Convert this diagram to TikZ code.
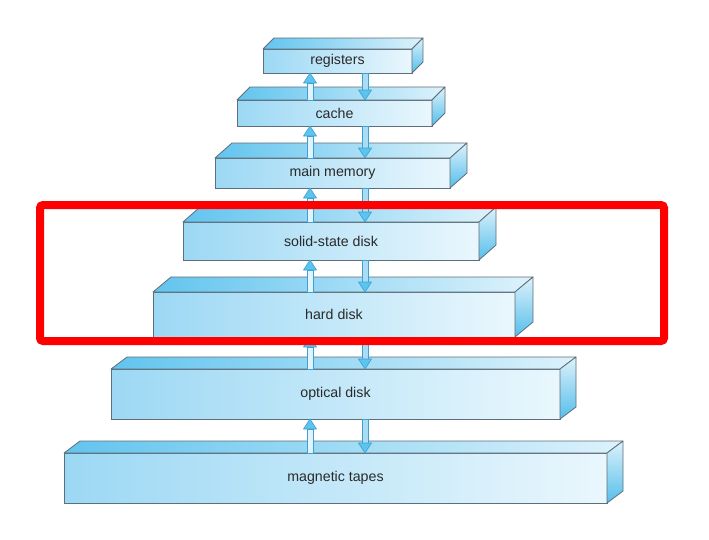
\documentclass[tikz,border=0pt]{standalone}
\usepackage{fontspec}
\setmainfont{Liberation Sans}
\usetikzlibrary{calc}
\definecolor{edge}{HTML}{5E6E7A}
\definecolor{frontL}{HTML}{9CD8F4}
\definecolor{frontR}{HTML}{EAF7FD}
\definecolor{topL}{HTML}{62C4EE}
\definecolor{topR}{HTML}{DDF2FB}
\definecolor{sideT}{HTML}{DDF2FB}
\definecolor{sideB}{HTML}{55BEEB}
\definecolor{arrline}{HTML}{3E9FD0}
\definecolor{arrhd}{HTML}{5CC4EE}
\definecolor{upsh}{HTML}{E6F5FC}
\definecolor{dnsh}{HTML}{A9DDF5}
\definecolor{txt}{HTML}{2A2A2A}
\definecolor{hl}{HTML}{FF0000}
\tikzset{
  front/.style={draw=edge, line width=0.8pt, left color=frontL, right color=frontR,
    inner sep=0pt, outer sep=0pt, text=txt, font=\fontsize{14.2}{16}\selectfont},
  topface/.style={draw=edge, line width=0.8pt, line join=round, left color=topL, right color=topR},
  sideface/.style={draw=edge, line width=0.8pt, line join=round, top color=sideT, bottom color=sideB},
  upshaft/.style={draw=arrline, line width=0.6pt, left color=upsh, right color=white!60!dnsh},
  dnshaft/.style={draw=arrline, line width=0.6pt, fill=dnsh},
  arrhead/.style={draw=arrline, line width=0.6pt, fill=arrhd, line join=round},
  hlbox/.style={draw=hl, line width=8pt, rounded corners=3pt}
}
% name, L, R, T, B, dx, dy(up), text
\newcommand\slab[8]{%
  \node[front, minimum width={#3-#2}, minimum height={#5-#4}] (#1) at ({(#2+#3)/2},{(#4+#5)/2+1}) {#8};
  \path[topface] (#1.north west) -- ++(#6,-#7) -- ($(#1.north east)+(#6,-#7)$) -- (#1.north east) -- cycle;
  \path[sideface] (#1.north east) -- ++(#6,-#7) -- ($(#1.south east)+(#6,-#7)$) -- (#1.south east) -- cycle;
}
% lower, upper
\newcommand\uparr[2]{%
  \path[upshaft] let \p1=(#1.north), \p2=(#2.south) in (307pt,\y1) rectangle (313pt,{\y2-10pt});
  \path[arrhead] let \p2=(#2.south) in (303.5pt,{\y2-10pt}) -- (310pt,\y2) -- (316.5pt,{\y2-10pt}) -- cycle;
}
% upper, lower
\newcommand\dnarr[2]{%
  \path[dnshaft] let \p1=(#1.south), \p2=(#2.north) in (362pt,\y1) rectangle (368pt,{\y2+10pt});
  \path[arrhead] let \p2=(#2.north) in (358.5pt,{\y2+10pt}) -- (365pt,\y2) -- (371.5pt,{\y2+10pt}) -- cycle;
}
\begin{document}
\begin{tikzpicture}[x=1pt,y=-1pt]
\fill[white] (0,0) rectangle (709,539);
\useasboundingbox (0,0) rectangle (709,539);
\slab{reg}{263}{412}{48}{72}{11}{11}{registers}
\slab{cache}{237}{432}{99}{125}{13}{13}{cache}
\slab{mem}{215}{450}{157}{187}{17}{15}{main memory}
\slab{ssd}{183}{479}{221}{259}{17}{15}{solid-state disk}
\slab{hdd}{153}{515}{291}{336}{18}{15}{hard disk}
\slab{opt}{111}{560}{368}{418}{16}{12}{optical disk}
\slab{tape}{64}{607}{452}{502}{16}{12}{magnetic tapes}
\uparr{cache}{reg}\dnarr{reg}{cache}
\uparr{mem}{cache}\dnarr{cache}{mem}
\uparr{ssd}{mem}\dnarr{mem}{ssd}
\uparr{hdd}{ssd}\dnarr{ssd}{hdd}
\uparr{opt}{hdd}\dnarr{hdd}{opt}
\uparr{tape}{opt}\dnarr{opt}{tape}
\node[hlbox, minimum width=624pt, minimum height=136pt, inner sep=0pt] (hl) at (352,273) {};
\end{tikzpicture}
\end{document}
